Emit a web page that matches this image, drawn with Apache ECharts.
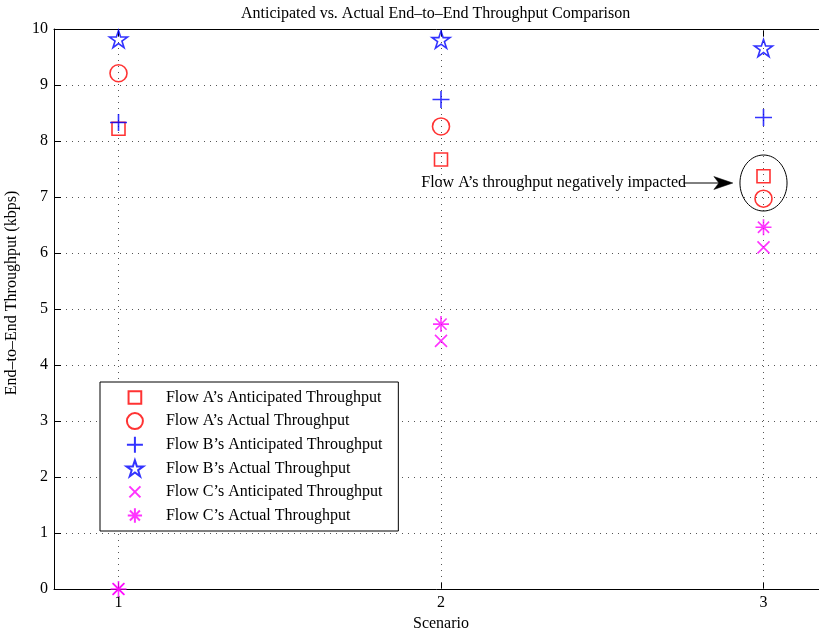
<!DOCTYPE html>
<html>
<head>
<meta charset="utf-8">
<title>Anticipated vs. Actual End-to-End Throughput Comparison</title>
<script src="https://cdn.jsdelivr.net/npm/echarts@6/dist/echarts.min.js"></script>
<style>
  html, body { margin: 0; padding: 0; background: #fff; }
  #chart { width: 819px; height: 634px; }
</style>
</head>
<body>
<div id="chart"></div>
<script>
// Scenario numbers and measured throughput (kbps) per flow
const scenarios = [1, 2, 3];
const flowAAnticipated = [8.22, 7.67, 7.37];
const flowAActual = [9.21, 8.26, 6.97];
const flowBAnticipated = [8.33, 8.74, 8.42];
const flowBActual = [9.82, 9.81, 9.66];
const flowCAnticipated = [0, 4.43, 6.10];
const flowCActual = [0, 4.73, 6.46];

const yTicks = [0, 1, 2, 3, 4, 5, 6, 7, 8, 9, 10];

const seriesNames = [
  'Flow A’s Anticipated Throughput',
  'Flow A’s Actual Throughput',
  'Flow B’s Anticipated Throughput',
  'Flow B’s Actual Throughput',
  'Flow C’s Anticipated Throughput',
  'Flow C’s Actual Throughput'
];

// Outline marker shapes (stroked, unfilled)
const SQUARE = 'M-1,-1L1,-1L1,1L-1,1Z';
const CIRCLE = 'M1,0A1,1,0,1,1,-1,0A1,1,0,1,1,1,0Z';
const PLUS = 'M0,-1L0,1M-1,0L1,0';
const CROSS = 'M-1,-1L1,1M-1,1L1,-1';
const ASTERISK = 'M0,-1L0,1M-1,0L1,0M-0.7,-0.7L0.7,0.7M-0.7,0.7L0.7,-0.7';
const STAR = 'M0,-1L0.2245,-0.309L0.951,-0.309L0.363,0.118L0.588,0.809L0,0.382L-0.588,0.809L-0.363,0.118L-0.951,-0.309L-0.2245,-0.309Z';

function sym(path) { return 'path://' + path; }
// legend icons share one box size; an empty margin shrinks the smaller glyphs
function padded(path, k) { return 'path://M' + (-k) + ',' + (-k) + 'M' + k + ',' + k + path; }

const FONT = 'Liberation Serif';
const FS = 16;
const gridDots = { color: '#555', width: 1, type: [1, 5] };

function pts(values) {
  return scenarios.map((s, i) => [s, values[i]]);
}

function markerSeries(name, values, symbol, size, color, extra) {
  return Object.assign({
    name: name,
    type: 'scatter',
    data: pts(values),
    symbol: symbol,
    symbolSize: size,
    symbolKeepAspect: true,
    z: 3,
    itemStyle: { color: 'none', borderColor: color, borderWidth: 1.6 },
    emphasis: { disabled: true },
    silent: true
  }, extra || {});
}

const chart = echarts.init(document.getElementById('chart'), null, { renderer: 'canvas' });

chart.setOption({
  animation: false,
  backgroundColor: '#fff',
  textStyle: { fontFamily: FONT },
  title: {
    text: 'Anticipated vs. Actual End–to–End Throughput Comparison',
    left: 236,
    top: 1,
    textStyle: { fontFamily: FONT, fontSize: FS, fontWeight: 'normal', color: '#000' }
  },
  grid: { left: 54, top: 29, width: 774, height: 560, outerBoundsMode: 'none', containLabel: false },
  legend: {
    orient: 'vertical',
    left: 100,
    top: 382,
    padding: [5, 16, 5, 24],
    itemWidth: 40,
    itemHeight: 16,
    itemGap: 2.6,
    borderColor: '#000',
    borderWidth: 1,
    backgroundColor: '#fff',
    selectedMode: false,
    symbolKeepAspect: true,
    data: [
      { name: seriesNames[0], icon: padded(SQUARE, 1.26) },
      { name: seriesNames[1], icon: sym(CIRCLE) },
      { name: seriesNames[2], icon: sym(PLUS) },
      { name: seriesNames[3], icon: sym(STAR) },
      { name: seriesNames[4], icon: padded(CROSS, 1.45) },
      { name: seriesNames[5], icon: padded(ASTERISK, 1.12) }
    ],
    textStyle: { fontFamily: FONT, fontSize: FS, color: '#000', lineHeight: 16, padding: [0, 0, 0, 6] }
  },
  xAxis: [
    {
      type: 'value',
      min: 0.8,
      max: 3.2,
      position: 'bottom',
      name: 'Scenario',
      nameLocation: 'middle',
      nameGap: 23,
      nameTextStyle: { fontFamily: FONT, fontSize: FS, color: '#000' },
      axisLine: { show: true, onZero: false, lineStyle: { color: '#000', width: 1 } },
      axisTick: { show: true, inside: true, length: 7, customValues: scenarios, lineStyle: { color: '#000' } },
      axisLabel: { customValues: scenarios, fontFamily: FONT, fontSize: FS, color: '#000', margin: 6 },
      splitLine: { show: false }
    },
    {
      type: 'value',
      min: 0.8,
      max: 3.2,
      position: 'top',
      axisLine: { show: true, onZero: false, lineStyle: { color: '#000', width: 1 } },
      axisTick: { show: true, inside: true, length: 7, customValues: scenarios, lineStyle: { color: '#000' } },
      axisLabel: { show: false },
      splitLine: { show: false }
    }
  ],
  yAxis: {
    type: 'value',
    min: yTicks[0],
    max: yTicks[yTicks.length - 1],
    interval: 1,
    name: 'End–to–End Throughput (kbps)',
    nameLocation: 'middle',
    nameGap: 34,
    nameTextStyle: { fontFamily: FONT, fontSize: FS, color: '#000', padding: [0, 0, 0, 32] },
    axisLine: { show: true, lineStyle: { color: '#000', width: 1 } },
    axisTick: { show: true, inside: true, length: 7, lineStyle: { color: '#000' } },
    axisLabel: { fontFamily: FONT, fontSize: FS, color: '#000', margin: 6 },
    splitLine: { show: true, lineStyle: gridDots }
  },
  series: [
    markerSeries(seriesNames[0], flowAAnticipated, sym(SQUARE), 13, '#ff0000', {
      // vertical dotted grid lines at each scenario
      markLine: {
        silent: true,
        z: 1,
        symbol: 'none',
        label: { show: false },
        lineStyle: gridDots,
        emphasis: { disabled: true },
        data: scenarios.map(s => ({ xAxis: s }))
      }
    }),
    markerSeries(seriesNames[1], flowAActual, sym(CIRCLE), 17, '#ff0000'),
    markerSeries(seriesNames[2], flowBAnticipated, sym(PLUS), 17, '#0000ff'),
    markerSeries(seriesNames[3], flowBActual, sym(STAR), 18, '#0000ff'),
    markerSeries(seriesNames[4], flowCAnticipated, sym(CROSS), 12, '#ff00ff'),
    markerSeries(seriesNames[5], flowCActual, sym(ASTERISK), 16, '#ff00ff')
  ]
});

// Callout: ellipse around Flow A's scenario-3 marks with an arrow and caption
const callout = {
  text: 'Flow A’s throughput negatively impacted',
  textEnd: [2.76, 7.25],
  arrowStart: [2.752, 7.25],
  arrowTip: [2.905, 7.25],
  ellipseCenter: [3, 7.25],
  ellipseRadius: [0.073, 0.5]
};

function px(p) { return chart.convertToPixel({ gridIndex: 0 }, p); }

const tEnd = px(callout.textEnd);
const aStart = px(callout.arrowStart);
const aTip = px(callout.arrowTip);
const eC = px(callout.ellipseCenter);
const eEdge = px([callout.ellipseCenter[0] + callout.ellipseRadius[0], callout.ellipseCenter[1] + callout.ellipseRadius[1]]);
const headLen = 19, headHalf = 6.5, notch = 5;

chart.setOption({
  graphic: [
    {
      type: 'text',
      silent: true,
      z: 10,
      style: {
        text: callout.text,
        x: tEnd[0],
        y: tEnd[1],
        align: 'right',
        verticalAlign: 'middle',
        font: FS + 'px "' + FONT + '"',
        fill: '#000'
      }
    },
    {
      type: 'line',
      silent: true,
      z: 10,
      shape: { x1: aStart[0], y1: aStart[1], x2: aTip[0] - headLen + notch, y2: aTip[1] },
      style: { stroke: '#000', lineWidth: 1 }
    },
    {
      type: 'polygon',
      silent: true,
      z: 10,
      shape: {
        points: [
          [aTip[0], aTip[1]],
          [aTip[0] - headLen, aTip[1] - headHalf],
          [aTip[0] - headLen + notch, aTip[1]],
          [aTip[0] - headLen, aTip[1] + headHalf]
        ]
      },
      style: { fill: '#000', stroke: '#000', lineWidth: 0.5 }
    },
    {
      type: 'ellipse',
      silent: true,
      z: 10,
      shape: { cx: eC[0], cy: eC[1], rx: Math.abs(eEdge[0] - eC[0]), ry: Math.abs(eEdge[1] - eC[1]) },
      style: { fill: 'none', stroke: '#000', lineWidth: 1 }
    }
  ]
});
</script>
</body>
</html>
